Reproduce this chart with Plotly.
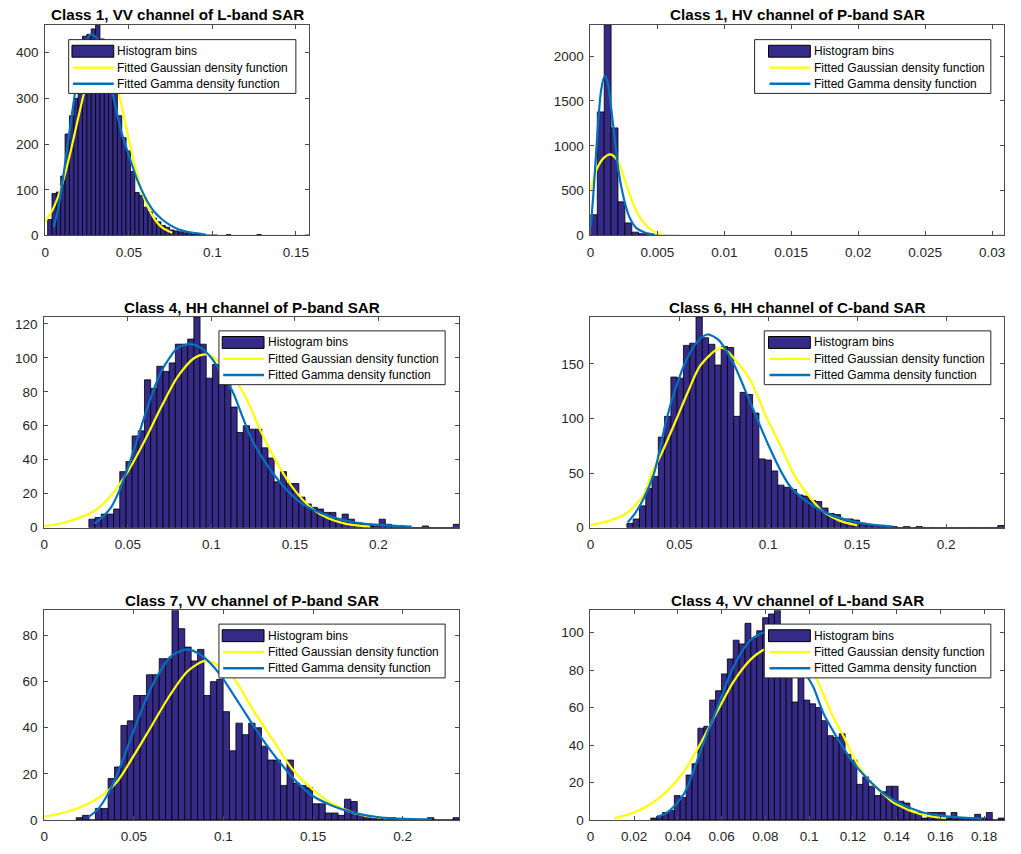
import numpy as np
import plotly.graph_objects as go

# ---------------- data ----------------
TITLES = [
    "Class 1, VV channel of L-band SAR",
    "Class 1, HV channel of P-band SAR",
    "Class 4, HH channel of P-band SAR",
    "Class 6, HH channel of C-band SAR",
    "Class 7, VV channel of P-band SAR",
    "Class 4, VV channel of L-band SAR",
]
LEGEND_NAMES = ["Histogram bins", "Fitted Gaussian density function",
                "Fitted Gamma density function"]

# histogram data range (min, max) split into 60 equal bins, and bin counts
P1_RANGE = [0.0014, 0.158]
P1_COUNTS = [35, 92, 95, 130, 222, 262, 300, 340, 436, 440,
             452, 461, 430, 405, 365, 318, 262, 214, 185, 140,
             94, 88, 62, 52, 38, 30, 22, 18, 12, 10,
             8, 6, 5, 3, 3, 2, 1, 1, 1, 0,
             0, 2, 0, 0, 0, 0, 0, 0, 2, 0,
             0, 0, 0, 0, 0, 0, 0, 0, 0, 1]
P1_GAUSS_X = [0, 0.005, 0.01, 0.015, 0.02, 0.025, 0.03, 0.0335, 0.035, 0.04,
              0.045, 0.05, 0.055, 0.06, 0.065, 0.07, 0.076]
P1_GAUSS_Y = [30, 61, 111, 181, 262, 338, 389, 400, 398, 363,
              295, 210, 132, 74, 38, 17, 6]
P1_GAMMA_X = [0.005, 0.0075, 0.01, 0.0125, 0.015, 0.0175, 0.02, 0.0225, 0.025,
              0.0274, 0.03, 0.0325, 0.035, 0.0375, 0.04, 0.0425, 0.045, 0.0475,
              0.05, 0.055, 0.06, 0.065, 0.07, 0.075, 0.08, 0.085, 0.09, 0.096]
P1_GAMMA_Y = [18, 55, 110, 175, 240, 305, 365, 405, 430,
              440, 435, 418, 392, 355, 315, 275, 234, 203,
              176, 122, 82, 53, 35, 22, 13, 8, 5, 2]

P2_RANGE = [0.0, 0.0309]
P2_COUNTS = [232, 1378, 2350, 1200, 375, 140, 37, 20, 8, 4,
             2, 1, 1, 0, 0, 0, 0, 0, 0, 0,
             0, 0, 0, 0, 0, 0, 0, 0, 0, 0,
             0, 0, 0, 0, 0, 0, 0, 0, 0, 0,
             0, 0, 0, 0, 0, 0, 0, 0, 0, 0,
             0, 0, 0, 0, 0, 0, 0, 0, 0, 1]
P2_GAUSS_X = [0, 0.0005, 0.001, 0.0015, 0.002, 0.0025, 0.003, 0.0035, 0.004,
              0.0045, 0.005, 0.0054]
P2_GAUSS_Y = [508, 748, 866, 905, 840, 650, 430, 250, 140, 66, 30, 11]
P2_GAMMA_X = [0.00003, 0.0002, 0.0004, 0.0006, 0.0008, 0.00107, 0.0013, 0.0015,
              0.0018, 0.0021, 0.0025, 0.0029, 0.0034, 0.0041, 0.0048]
P2_GAMMA_Y = [100, 420, 860, 1300, 1620, 1779, 1700, 1480,
              1100, 720, 410, 210, 88, 30, 11]

P3_RANGE = [0.0267, 0.2486]
P3_COUNTS = [5, 6, 8, 8, 11, 33, 39, 54, 57, 87,
             82, 95, 92, 97, 108, 108, 111, 124, 108, 88,
             96, 90, 84, 71, 56, 60, 58, 58, 47, 41,
             27, 33, 26, 26, 18, 14, 12, 11, 9, 9,
             5, 8, 5, 3, 2, 2, 1, 5, 2, 1,
             1, 0, 0, 0, 1, 0, 0, 0, 0, 2]
P3_GAUSS_X = [0, 0.01, 0.02, 0.03, 0.04, 0.05, 0.06, 0.07, 0.08, 0.09, 0.096,
              0.1, 0.11, 0.12, 0.13, 0.14, 0.15, 0.16, 0.17, 0.18, 0.195]
P3_GAUSS_Y = [1, 2.5, 5.5, 10, 19, 33, 51, 71, 89, 100, 102,
              101, 93, 78, 56, 37, 22, 11.5, 5.5, 2.4, 0.6]
P3_GAMMA_X = [0.03, 0.035, 0.04, 0.045, 0.05, 0.055, 0.06, 0.065, 0.07, 0.075,
              0.08, 0.088, 0.095, 0.1, 0.106, 0.1128, 0.1188, 0.1247, 0.1307,
              0.1366, 0.1426, 0.1485, 0.1545, 0.16, 0.172, 0.184, 0.196, 0.208,
              0.22]
P3_GAMMA_Y = [2.5, 6.4, 12, 22, 35, 50, 65.5, 80, 92, 100,
              106, 108, 105, 100, 91, 80, 65, 51, 41,
              32.5, 25, 19, 14, 11, 6.4, 3.5, 2, 1.2,
              0.6]

P4_RANGE = [0.0205, 0.2326]
P4_COUNTS = [4, 8, 20, 36, 47, 83, 102, 138, 137, 167,
             169, 193, 174, 168, 149, 166, 165, 102, 124, 122,
             105, 63, 62, 52, 39, 37, 35, 30, 29, 25,
             24, 18, 13, 12, 8, 8, 7, 4, 2, 2,
             1, 1, 1, 0, 1, 0, 1, 0, 0, 0,
             0, 0, 0, 0, 0, 0, 0, 0, 0, 2]
P4_GAUSS_X = [0, 0.01, 0.02, 0.03, 0.034, 0.04, 0.048, 0.055, 0.062, 0.0737,
              0.0834, 0.09, 0.0993, 0.106, 0.114, 0.12, 0.13, 0.14, 0.1506]
P4_GAUSS_Y = [2.5, 6, 13, 30, 48, 68, 98, 125, 149, 165,
              150, 135, 100, 78, 50, 35, 16, 6.5, 2]
P4_GAMMA_X = [0.021, 0.025, 0.03, 0.0358, 0.0429, 0.048, 0.0535, 0.06, 0.0657,
              0.072, 0.0806, 0.087, 0.0937, 0.1, 0.1077, 0.1122, 0.1178,
              0.1234, 0.1346, 0.1458, 0.157, 0.17]
P4_GAMMA_Y = [5, 13, 27, 50, 100, 128, 152, 170, 177,
              172, 150, 126, 100, 76, 50, 38, 29,
              22, 12, 6.5, 3, 1]

P5_RANGE = [0.0178, 0.2317]
P5_COUNTS = [1, 2, 0, 5, 5, 18, 23, 41, 43, 54,
             54, 63, 63, 70, 70, 91, 83, 75, 69, 74,
             54, 60, 61, 47, 30, 42, 37, 42, 40, 32,
             26, 26, 15, 26, 16, 15, 14, 7, 7, 3,
             3, 2, 9, 8, 2, 1, 1, 1, 0, 1,
             0, 0, 0, 0, 0, 1, 0, 0, 0, 1]
P5_GAUSS_X = [0, 0.01, 0.02, 0.03, 0.04, 0.05, 0.06, 0.07, 0.08, 0.0894, 0.095,
              0.1052, 0.1163, 0.1274, 0.1385, 0.1496, 0.1607, 0.1718, 0.1829,
              0.188]
P5_GAUSS_Y = [1.4, 3, 5.5, 9.5, 16, 28, 41, 54, 64.5, 69, 68,
              62, 48, 35, 22, 13.4, 7, 3.3, 1.4,
              1]
P5_GAMMA_X = [0.0246, 0.03, 0.035, 0.04, 0.045, 0.05, 0.055, 0.06, 0.065, 0.07,
              0.075, 0.08, 0.085, 0.09, 0.095, 0.1, 0.105, 0.11, 0.1163, 0.1218,
              0.1274, 0.133, 0.1385, 0.1441, 0.1496, 0.1607, 0.1718, 0.1829,
              0.194, 0.2052, 0.2163]
P5_GAMMA_Y = [1.2, 4.7, 10.5, 18.4, 28.5, 39, 49, 58, 65, 70.6,
              73, 74, 72.7, 70, 66, 61, 55, 49, 41.4, 35,
              29, 23.5, 18.4, 14, 10.5, 6.2, 3.3, 1.6,
              0.7, 0.4, 0.3]

P6_RANGE = [0.0276, 0.1891]
P6_COUNTS = [1, 2, 4, 5, 13, 12, 24, 30, 49, 50,
             64, 69, 78, 86, 96, 94, 105, 97, 101, 108,
             110, 112, 100, 86, 63, 78, 64, 62, 60, 53,
             45, 44, 46, 35, 32, 19, 23, 18, 13, 15,
             18, 18, 10, 9, 4, 4, 1, 4, 4, 4,
             1, 4, 1, 1, 1, 3, 1, 4, 0, 1]
P6_GAUSS_X = [0.0112, 0.02, 0.0276, 0.0352, 0.0428, 0.0504, 0.058, 0.0655,
              0.0731, 0.0795, 0.0835, 0.09, 0.0965, 0.1027, 0.1065, 0.111,
              0.1156, 0.1201, 0.1247, 0.1292, 0.1338, 0.1383, 0.1429, 0.1474,
              0.152, 0.1565, 0.1626]
P6_GAUSS_Y = [1, 4, 8.5, 15.6, 26, 41, 58, 74,
              85.5, 91, 92, 90, 84, 76.6, 67, 55,
              45, 34, 25, 19, 14, 9.4, 6.7, 4.4,
              2.8, 1.8, 1]
P6_GAMMA_X = [0.0307, 0.0352, 0.0428, 0.0504, 0.058, 0.0655, 0.0731, 0.0792,
              0.084, 0.09, 0.0989, 0.1019, 0.1065, 0.111, 0.1156, 0.1201,
              0.1247, 0.1292, 0.1338, 0.1383, 0.1429, 0.1474, 0.152, 0.1596,
              0.17, 0.1792]
P6_GAMMA_Y = [1.8, 4, 14, 37, 60, 82, 96, 100,
              99, 93, 77, 71, 57, 47.4, 38.6, 30.6,
              24.4, 19, 14.3, 10.8, 8, 5.8, 4, 2.3,
              1.2, 0.7]

X_DTICK = [0.05, 0.005, 0.05, 0.05, 0.05, 0.02]
Y_DTICK = [100, 500, 20, 50, 20, 20]

PANELS = [
    (P1_RANGE, P1_COUNTS, P1_GAUSS_X, P1_GAUSS_Y, P1_GAMMA_X, P1_GAMMA_Y),
    (P2_RANGE, P2_COUNTS, P2_GAUSS_X, P2_GAUSS_Y, P2_GAMMA_X, P2_GAMMA_Y),
    (P3_RANGE, P3_COUNTS, P3_GAUSS_X, P3_GAUSS_Y, P3_GAMMA_X, P3_GAMMA_Y),
    (P4_RANGE, P4_COUNTS, P4_GAUSS_X, P4_GAUSS_Y, P4_GAMMA_X, P4_GAMMA_Y),
    (P5_RANGE, P5_COUNTS, P5_GAUSS_X, P5_GAUSS_Y, P5_GAMMA_X, P5_GAMMA_Y),
    (P6_RANGE, P6_COUNTS, P6_GAUSS_X, P6_GAUSS_Y, P6_GAMMA_X, P6_GAMMA_Y),
]

# ---------------- layout / style ----------------
W, H = 1021, 854
FONT = "Liberation Sans, Arial, Helvetica, sans-serif"
AX_COL = "#4d4d4d"
TXT_COL = "#262626"
BAR_COL = "#352a87"
GAUSS_COL = "#ffff00"
GAMMA_COL = "#0072bd"
LINE_COLS = [None, GAUSS_COL, GAMMA_COL]

# axes boxes in pixels: left, top, right, bottom
BOXES = [(41.5, 25, 306.7, 237.7), (589.3, 25, 1005, 237.7),
         (40.5, 320, 457.7, 532.7), (589.3, 320, 1005, 532.7),
         (40.5, 616, 457.7, 827.7), (589.3, 616, 1005, 827.7)]
# legend boxes in pixels: left, top, right, and the symbol start x
LEG_BOX = [(65, 40, 293.3, 68.3), (754.3, 40, 991.7, 768.3),
           (216, 334, 443.3, 219.3), (764, 334, 991.7, 768.3),
           (216, 630, 443.3, 219.3), (764, 630, 991.7, 768.3)]
LEG_H = 54.3
ROW_DY = [11.7, 28.3, 44.5]


def px(x):
    return x / W


def py(y):
    return 1 - y / H


fig = go.Figure()
layout = {}
annotations = []
shapes = []
for k, (rng, counts, gx, gy, mx, my) in enumerate(PANELS):
    n = k + 1
    sfx = "" if n == 1 else str(n)
    xa, ya = "x" + sfx, "y" + sfx
    counts = np.array(counts, dtype=float)
    edges = np.linspace(rng[0], rng[1], len(counts) + 1)
    centers = (edges[:-1] + edges[1:]) / 2.0
    bw = edges[1] - edges[0]

    fig.add_trace(go.Bar(
        x=centers, y=counts, width=bw, name=LEGEND_NAMES[0],
        marker=dict(color=BAR_COL, line=dict(color="black", width=0.8)),
        xaxis=xa, yaxis=ya, showlegend=False, hoverinfo="skip"))
    fig.add_trace(go.Scatter(
        x=gx, y=gy, mode="lines", name=LEGEND_NAMES[1],
        line=dict(color=GAUSS_COL, width=2.2, shape="spline", smoothing=0.8),
        xaxis=xa, yaxis=ya, showlegend=False))
    fig.add_trace(go.Scatter(
        x=mx, y=my, mode="lines", name=LEGEND_NAMES[2],
        line=dict(color=GAMMA_COL, width=2.2, shape="spline", smoothing=0.8),
        xaxis=xa, yaxis=ya, showlegend=False))

    l, t, r, b = BOXES[k]
    common = dict(showline=True, linecolor=AX_COL, linewidth=1, mirror="ticks",
                  ticks="inside", ticklen=4, tickcolor=AX_COL, showgrid=False,
                  zeroline=False, tick0=0,
                  tickfont=dict(family=FONT, size=13.5, color=TXT_COL))
    layout["xaxis" + sfx] = dict(domain=[px(l), px(r)], range=[0, rng[1]],
                                 anchor=ya, dtick=X_DTICK[k],
                                 ticklabelstandoff=4, **common)
    layout["yaxis" + sfx] = dict(domain=[py(b), py(t)],
                                 range=[0, counts.max()], anchor=xa,
                                 dtick=Y_DTICK[k], ticklabelstandoff=3, **common)

    # title
    annotations.append(dict(
        x=px((l + r) / 2), y=py(t - 10), xref="paper", yref="paper",
        xanchor="center", yanchor="middle", showarrow=False,
        text="<b>" + TITLES[k] + "</b>",
        font=dict(family=FONT, size=15.2, color="black")))

    # legend box (drawn as shapes + text)
    ll, lt, lr, sx = LEG_BOX[k]
    shapes.append(dict(type="rect", xref="paper", yref="paper", layer="above",
                       x0=px(ll), x1=px(lr), y0=py(lt + LEG_H), y1=py(lt),
                       fillcolor="white", line=dict(color=TXT_COL, width=1)))
    for j, name in enumerate(LEGEND_NAMES):
        yc = lt + ROW_DY[j]
        if j == 0:
            shapes.append(dict(type="rect", xref="paper", yref="paper",
                               layer="above", x0=px(sx), x1=px(sx + 42),
                               y0=py(yc + 6), y1=py(yc - 6),
                               fillcolor=BAR_COL,
                               line=dict(color="black", width=1)))
        else:
            shapes.append(dict(type="line", xref="paper", yref="paper",
                               layer="above", x0=px(sx + 1), x1=px(sx + 42),
                               y0=py(yc), y1=py(yc),
                               line=dict(color=LINE_COLS[j], width=2.4)))
        annotations.append(dict(
            x=px(sx + 43.5), y=py(yc), xref="paper", yref="paper",
            xanchor="left", yanchor="middle", showarrow=False, text=name,
            font=dict(family=FONT, size=12, color="black")))

fig.update_layout(**layout)
fig.update_layout(
    width=W, height=H, autosize=False,
    margin=dict(l=0, r=0, t=0, b=0),
    paper_bgcolor="white", plot_bgcolor="white",
    barmode="overlay", annotations=annotations, shapes=shapes,
    showlegend=False)

fig.write_html("out.html")
